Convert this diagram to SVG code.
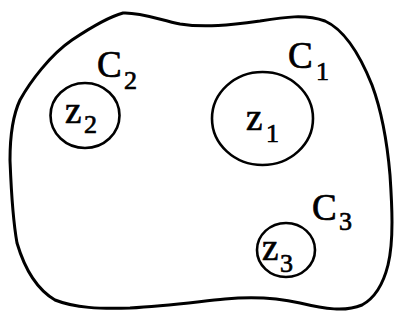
<svg xmlns="http://www.w3.org/2000/svg" width="394" height="321" viewBox="0 0 394 321">
<style>
.ln{fill:none;stroke:#000;stroke-width:3;stroke-linejoin:round;stroke-linecap:round}
.c{fill:none;stroke:#000;stroke-width:2.6}
.t{font-family:"Liberation Serif","Times New Roman",serif;fill:#000;stroke:#000;stroke-width:0.7}
.big{font-size:37px}
.sub{font-size:26px}
</style>
<rect width="394" height="321" fill="#fff"/>
<g id="region">
<path class="ln" d="M20,100 C30,82 50,55 72,40 C90,28 108,17 123,13 C140,12 160,20 180,24 C205,28 230,25 260,21 C285,17 305,14 325,21 C345,30 360,55 372,85 C382,112 387,140 390,175 C392,205 394,240 388,265 C383,285 375,298 362,305 C345,312 325,309 300,303 C278,298 255,296 225,299 C195,302 165,306 130,308 C100,309 75,308 55,300 C38,290 25,270 17,243 C12,215 11,185 10,160 C10,135 13,115 20,100 Z"/>
</g>
<g id="node-z1">
<ellipse class="c" cx="262.5" cy="118.5" rx="50.5" ry="46.5"/>
<text class="t big" x="246" y="130">z</text><text class="t sub" x="266" y="142">1</text>
<text class="t big" x="288" y="68">C</text><text class="t sub" x="316" y="80">1</text>
</g>
<g id="node-z2">
<ellipse class="c" cx="85" cy="115.5" rx="34.5" ry="32.5"/>
<text class="t big" x="65" y="123">z</text><text class="t sub" x="84" y="133">2</text>
<text class="t big" x="97" y="77">C</text><text class="t sub" x="124" y="89">2</text>
</g>
<g id="node-z3">
<ellipse class="c" cx="286" cy="250" rx="29" ry="27"/>
<text class="t big" x="262" y="260">z</text><text class="t sub" x="280" y="272">3</text>
<text class="t big" x="312" y="220">C</text><text class="t sub" x="339" y="230">3</text>
</g>
<g id="connectors"/>
</svg>
